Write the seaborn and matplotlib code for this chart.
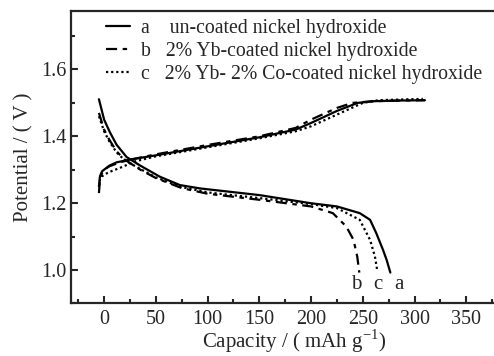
import numpy as np
import pandas as pd
import matplotlib
matplotlib.use('Agg')
import matplotlib.pyplot as plt
import seaborn as sns
from matplotlib.ticker import MultipleLocator

# charge curves (rising)
charge_a_x = [-5, -4, -2, 0, 5, 12, 28, 50, 100, 150, 185, 200, 225, 245, 260, 285, 310]
charge_a_y = [1.25, 1.28, 1.295, 1.30, 1.312, 1.322, 1.332, 1.343, 1.37, 1.397, 1.42, 1.44, 1.476, 1.50, 1.505, 1.507, 1.508]
charge_b_x = [-5, -4, -2, 0, 5, 15, 30, 50, 100, 150, 185, 200, 225, 240, 260, 285, 310]
charge_b_y = [1.23, 1.27, 1.29, 1.30, 1.31, 1.322, 1.333, 1.346, 1.374, 1.40, 1.425, 1.45, 1.485, 1.50, 1.505, 1.507, 1.508]
charge_c_x = [-5, -4, -2, 0, 5, 15, 30, 50, 100, 150, 185, 200, 225, 250, 265, 285, 308]
charge_c_y = [1.25, 1.27, 1.28, 1.285, 1.293, 1.305, 1.325, 1.34, 1.367, 1.394, 1.415, 1.43, 1.465, 1.50, 1.508, 1.51, 1.512]

# discharge curves (falling)
dis_a_x = [-5, 0, 5.6, 12, 21.7, 34.5, 53.9, 73.2, 92.5, 150, 199, 225, 247, 257, 263, 269.5, 273, 276.6]
dis_a_y = [1.511, 1.45, 1.412, 1.375, 1.338, 1.313, 1.279, 1.254, 1.244, 1.224, 1.20, 1.19, 1.17, 1.15, 1.11, 1.06, 1.03, 0.992]
dis_b_x = [-5, 0, 5, 12, 20, 35, 50, 75, 100, 150, 200, 221, 234, 241, 244.6, 246.6]
dis_b_y = [1.47, 1.42, 1.39, 1.355, 1.33, 1.30, 1.275, 1.245, 1.228, 1.21, 1.19, 1.17, 1.13, 1.09, 1.04, 0.992]
dis_c_x = [-5, 0, 5, 12, 20, 35, 50, 75, 100, 150, 200, 225, 247, 257, 261.7, 264]
dis_c_y = [1.46, 1.415, 1.385, 1.352, 1.328, 1.302, 1.277, 1.248, 1.232, 1.215, 1.197, 1.185, 1.15, 1.09, 1.04, 0.997]

labels = ["a    un-coated nickel hydroxide",
          "b   2% Yb-coated nickel hydroxide",
          "c   2% Yb- 2% Co-coated nickel hydroxide"]
end_labels = ["b", "c", "a"]
end_label_x = [244, 265, 285]
x_ticks = [0, 50, 100, 150, 200, 250, 300, 350]
y_ticks = [1.0, 1.2, 1.4, 1.6]

sns.set_style("ticks")
plt.rcParams['font.family'] = ['Liberation Serif', 'DejaVu Serif']

fig = plt.figure(figsize=(4.94, 3.56), dpi=100)
ax = fig.add_axes([0.1437, 0.148, 0.905, 0.821])

styles = [dict(color='black', lw=1.6, linestyle='-'),
          dict(color='black', lw=1.6, linestyle=(0, (5, 2.5, 2, 2.5))),
          dict(color='black', lw=1.6, linestyle=(0, (1, 1.3)))]

curves = [(charge_a_x, charge_a_y, dis_a_x, dis_a_y),
          (charge_b_x, charge_b_y, dis_b_x, dis_b_y),
          (charge_c_x, charge_c_y, dis_c_x, dis_c_y)]

for (cx, cy, dx, dy), st, lab in zip(curves, styles, labels):
    sns.lineplot(x=cx, y=cy, ax=ax, label=lab, sort=False, estimator=None, **st)
    sns.lineplot(x=dx, y=dy, ax=ax, sort=False, estimator=None, **st)

for t, x in zip(end_labels, end_label_x):
    ax.text(x, 0.955, t, ha='center', va='center', fontsize=15)

ax.set_xlim(-32, 400)
ax.set_ylim(0.9, 1.775)
ax.set_xticks(x_ticks)
ax.set_yticks(y_ticks)
ax.xaxis.set_minor_locator(MultipleLocator(25))
ax.yaxis.set_minor_locator(MultipleLocator(0.1))
ax.tick_params(which='major', direction='in', length=5, width=1.5, labelsize=14.5)
ax.tick_params(axis='x', which='major', pad=5)
ax.tick_params(axis='y', which='major', pad=3)
ax.tick_params(which='minor', direction='in', length=3, width=1.5)
for s in ax.spines.values():
    s.set_linewidth(1.6)

ax.set_xlabel("Capacity / ( mAh g$^{\\mathregular{-1}}$)", fontsize=15, labelpad=-1)
ax.set_ylabel("Potential / ( V )", fontsize=15, labelpad=6)

leg = ax.legend(loc='upper left', bbox_to_anchor=(0.055, 1.01), frameon=False,
                fontsize=14.2, handlelength=1.2, handletextpad=0.55, labelspacing=0.2,
                borderaxespad=0.15)

fig.savefig("out.png", dpi=100)
